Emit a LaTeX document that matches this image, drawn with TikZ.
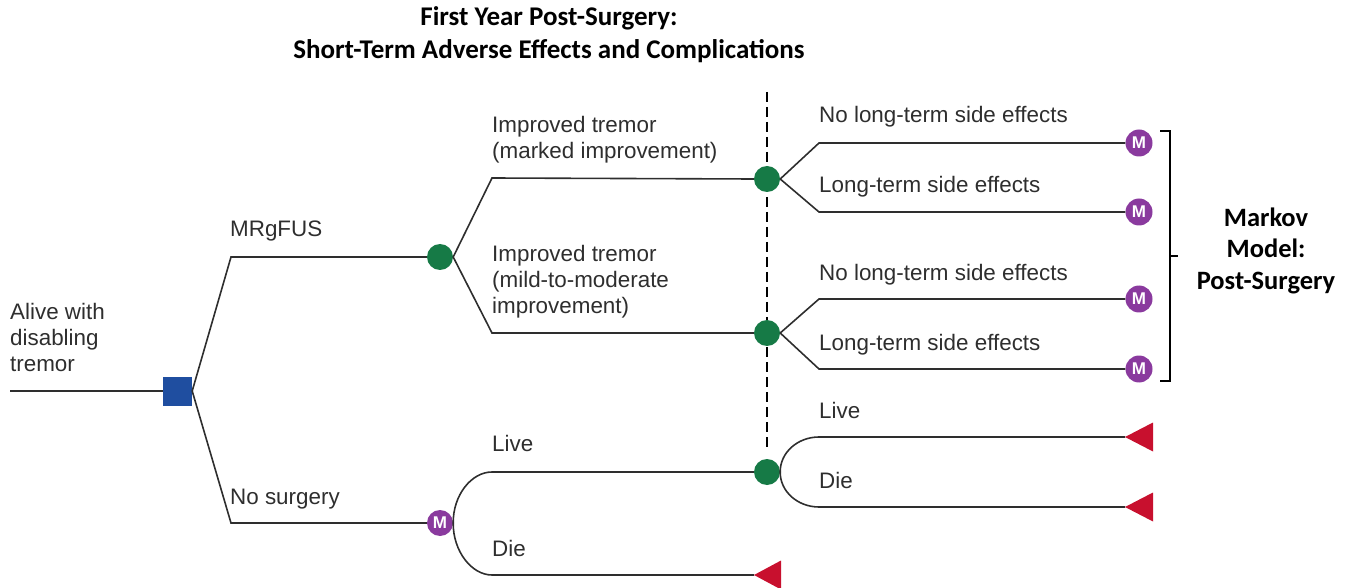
\documentclass[tikz,border=0pt]{standalone}
\usepackage{fontspec}
\setmainfont{Liberation Sans}
\newfontfamily\calib{Carlito}
\definecolor{decblue}{HTML}{1F4EA0}
\definecolor{chgreen}{HTML}{167A46}
\definecolor{mkpurple}{HTML}{8A3A9E}
\definecolor{termred}{HTML}{C8102E}
\definecolor{linegray}{HTML}{2E2E2E}
\begin{document}
\begin{tikzpicture}[x=1pt,y=-1pt,
  line/.style={draw=linegray, line width=1.6pt},
  lbl/.style={anchor=base west, inner sep=0pt, font=\fontsize{22.4}{26}\selectfont, text=linegray, align=left},
  ttl/.style={anchor=base, inner sep=0pt, font=\calib\bfseries\fontsize{27}{32}\selectfont, text=black},
  mkl/.style={anchor=base, inner sep=0pt, font=\calib\bfseries\fontsize{26.5}{32}\selectfont, text=black},
  chance/.style={circle, fill=chgreen, minimum size=26pt, inner sep=0pt},
  markov/.style={circle, fill=mkpurple, minimum size=27pt, inner sep=0pt, text=white, font=\bfseries\fontsize{17}{17}\selectfont},
  decision/.style={rectangle, fill=decblue, minimum size=29pt, inner sep=0pt},
  term/.style={fill=termred},
  brace/.style={draw=black, line width=1.6pt},
  divider/.style={draw=black, line width=2.6pt, dash pattern=on 10pt off 5pt}
  ]
\useasboundingbox (0,0) rectangle (1353,588);

% titles
\node[ttl] (t1) at (549,26) {First Year Post-Surgery:};
\node[ttl] (t2) at (549,59) {Short-Term Adverse Effects and Complications};

% divider
\coordinate (dvtop) at (767,92);
\coordinate (dvbot) at (767,447);
\draw[divider] (dvtop) -- (dvbot);

% nodes
\coordinate (root) at (10,391);
\node[decision] (dec) at (177.5,391) {};
\node[chance] (g0) at (440,257) {};
\node[markov, minimum size=26pt] (m0) at (440,523) {M};
\node[chance] (g1) at (767,179) {};
\node[chance] (g2) at (767,333) {};
\node[chance] (g3) at (767,472) {};
\node[markov] (m1) at (1139,143) {M};
\node[markov] (m2) at (1139,212) {M};
\node[markov] (m3) at (1139,299) {M};
\node[markov] (m4) at (1139,369) {M};

% terminal triangles (tips)
\coordinate (r0) at (754,575);
\coordinate (r1) at (1125,437);
\coordinate (r2) at (1125,507);

% bends
\coordinate (bA) at (231,257);
\coordinate (bB) at (231,523);
\coordinate (bC) at (492,178);
\coordinate (bD) at (492,333);
\coordinate (bE) at (819,143);
\coordinate (bF) at (819,212);
\coordinate (bG) at (819,299);
\coordinate (bH) at (819,369);
\coordinate (bI) at (492,472);
\coordinate (bJ) at (492,575);
\coordinate (bK) at (819,437);
\coordinate (bL) at (819,507);

% connectors
\draw[line] (root) -- (dec.west);
\draw[line] (dec.east) -- (bA) -- (g0.west);
\draw[line] (dec.east) -- (bB) -- (m0.west);
\draw[line] (g0.east) -- (bC) -- (g1.west);
\draw[line] (g0.east) -- (bD) -- (g2.west);
\draw[line] (g1.east) -- (bE) -- (m1.west);
\draw[line] (g1.east) -- (bF) -- (m2.west);
\draw[line] (g2.east) -- (bG) -- (m3.west);
\draw[line] (g2.east) -- (bH) -- (m4.west);
\draw[line] (m0.east) .. controls (453,494.8) and (471.6,472) .. (bI) -- (g3.west);
\draw[line] (m0.east) .. controls (453,551.2) and (471.6,575) .. (bJ) -- (r0);
\draw[line] (g3.east) .. controls (780,452.7) and (797.5,437) .. (bK) -- (r1);
\draw[line] (g3.east) .. controls (780,491.3) and (797.5,507) .. (bL) -- (r2);

% triangles
\fill[term] (r0) -- ++(27,-14.5) -- ++(0,29) -- cycle;
\fill[term] (r1) -- ++(28,-14.5) -- ++(0,29) -- cycle;
\fill[term] (r2) -- ++(28,-14.5) -- ++(0,29) -- cycle;

% labels (base anchor = last line baseline)
\node[lbl] (lroot) at (10,371) {Alive with\\disabling\\tremor};
\node[lbl] (lmr) at (230,237) {MRgFUS};
\node[lbl] (lns) at (230,504) {No surgery};
\node[lbl] (lmk) at (492,159) {Improved tremor\\(marked improvement)};
\node[lbl] (lmm) at (492,314) {Improved tremor\\(mild-to-moderate\\improvement)};
\node[lbl] (ln1) at (819,123) {No long-term side effects};
\node[lbl] (ll1) at (819,193) {Long-term side effects};
\node[lbl] (ln2) at (819,280) {No long-term side effects};
\node[lbl] (ll2) at (819,350) {Long-term side effects};
\node[lbl] (llv0) at (492,451) {Live};
\node[lbl] (ldi0) at (492,556) {Die};
\node[lbl] (llv1) at (819,418) {Live};
\node[lbl] (ldi1) at (819,488) {Die};

% brace
\coordinate (brT) at (1160,131);
\coordinate (brB) at (1160,381);
\coordinate (brM) at (1178,256);
\draw[brace] (brT) -- (1170,131) -- (1170,381) -- (brB);
\draw[brace] (1170,256) -- (brM);

% Markov label
\node[mkl] (mk1) at (1266,227) {Markov};
\node[mkl] (mk2) at (1266,258) {Model:};
\node[mkl] (mk3) at (1266,290) {Post-Surgery};
\end{tikzpicture}
\end{document}
